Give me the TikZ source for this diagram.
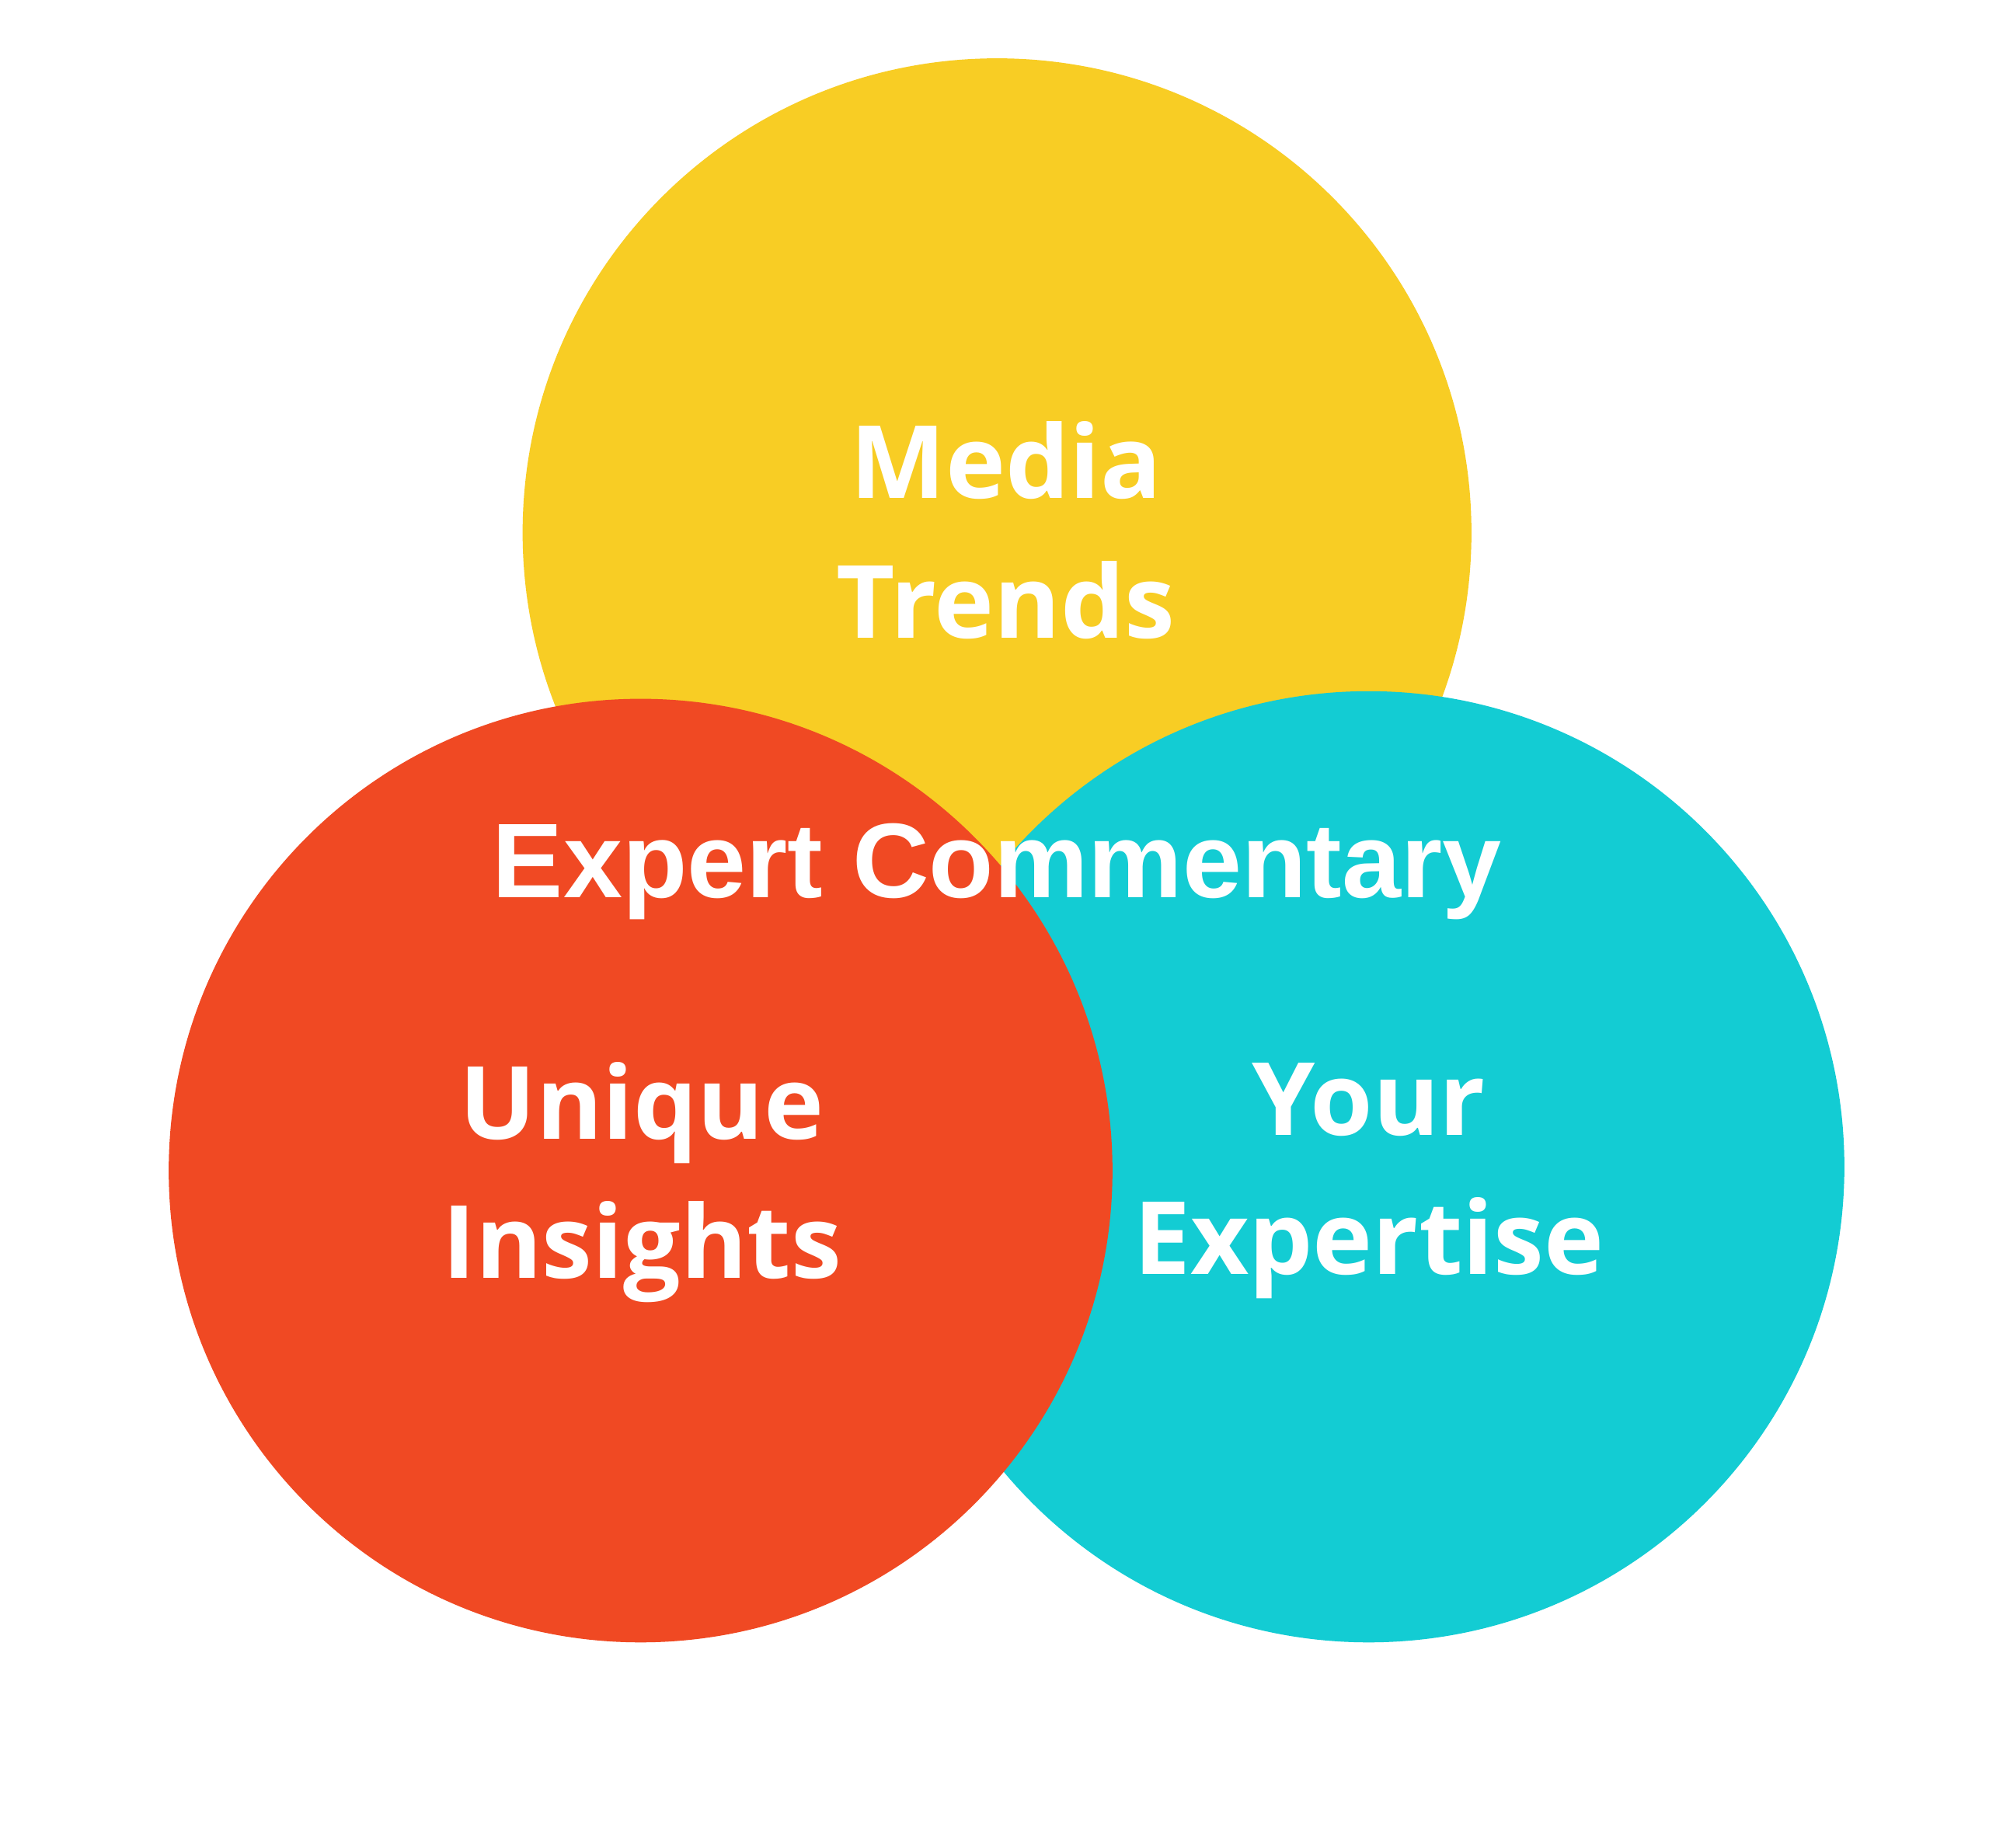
\documentclass[tikz,border=0pt]{standalone}
\usepackage{fontspec}
\setmainfont{Open Sans}
\newfontfamily\arialb{Liberation Sans}
\definecolor{cyel}{HTML}{F8CD24}
\definecolor{cred}{HTML}{F04923}
\definecolor{ccyan}{HTML}{13CCD3}
\begin{document}
\begin{tikzpicture}[x=0.01cm,y=-0.01cm,
  lbl/.style={text=white,font=\fontsize{22.7pt}{27pt}\selectfont\bfseries,anchor=base,inner sep=0pt},
  lblb/.style={text=white,font=\fontsize{23.8pt}{28pt}\selectfont\arialb\bfseries,anchor=base,inner sep=0pt}]
\useasboundingbox[fill=white] (0,0) rectangle (1568,1457);
\fill[cyel] (786,420) circle[radius=374];
\fill[ccyan] (1079,920) circle[radius=375];
\fill[cred] (505,923) circle[radius=372];
\node[lbl] (m1) at (793,393) {Media};
\node[lbl] (m2) at (793,503) {Trends};
\node[lblb] (ec) at (786,708) {Expert Commentary};
\node[lbl] (u1) at (506,898) {Unique};
\node[lbl] (u2) at (506,1008) {Insights};
\node[lbl] (y1) at (1079,895) {Your};
\node[lbl] (y2) at (1079,1005) {Expertise};
\end{tikzpicture}
\end{document}
